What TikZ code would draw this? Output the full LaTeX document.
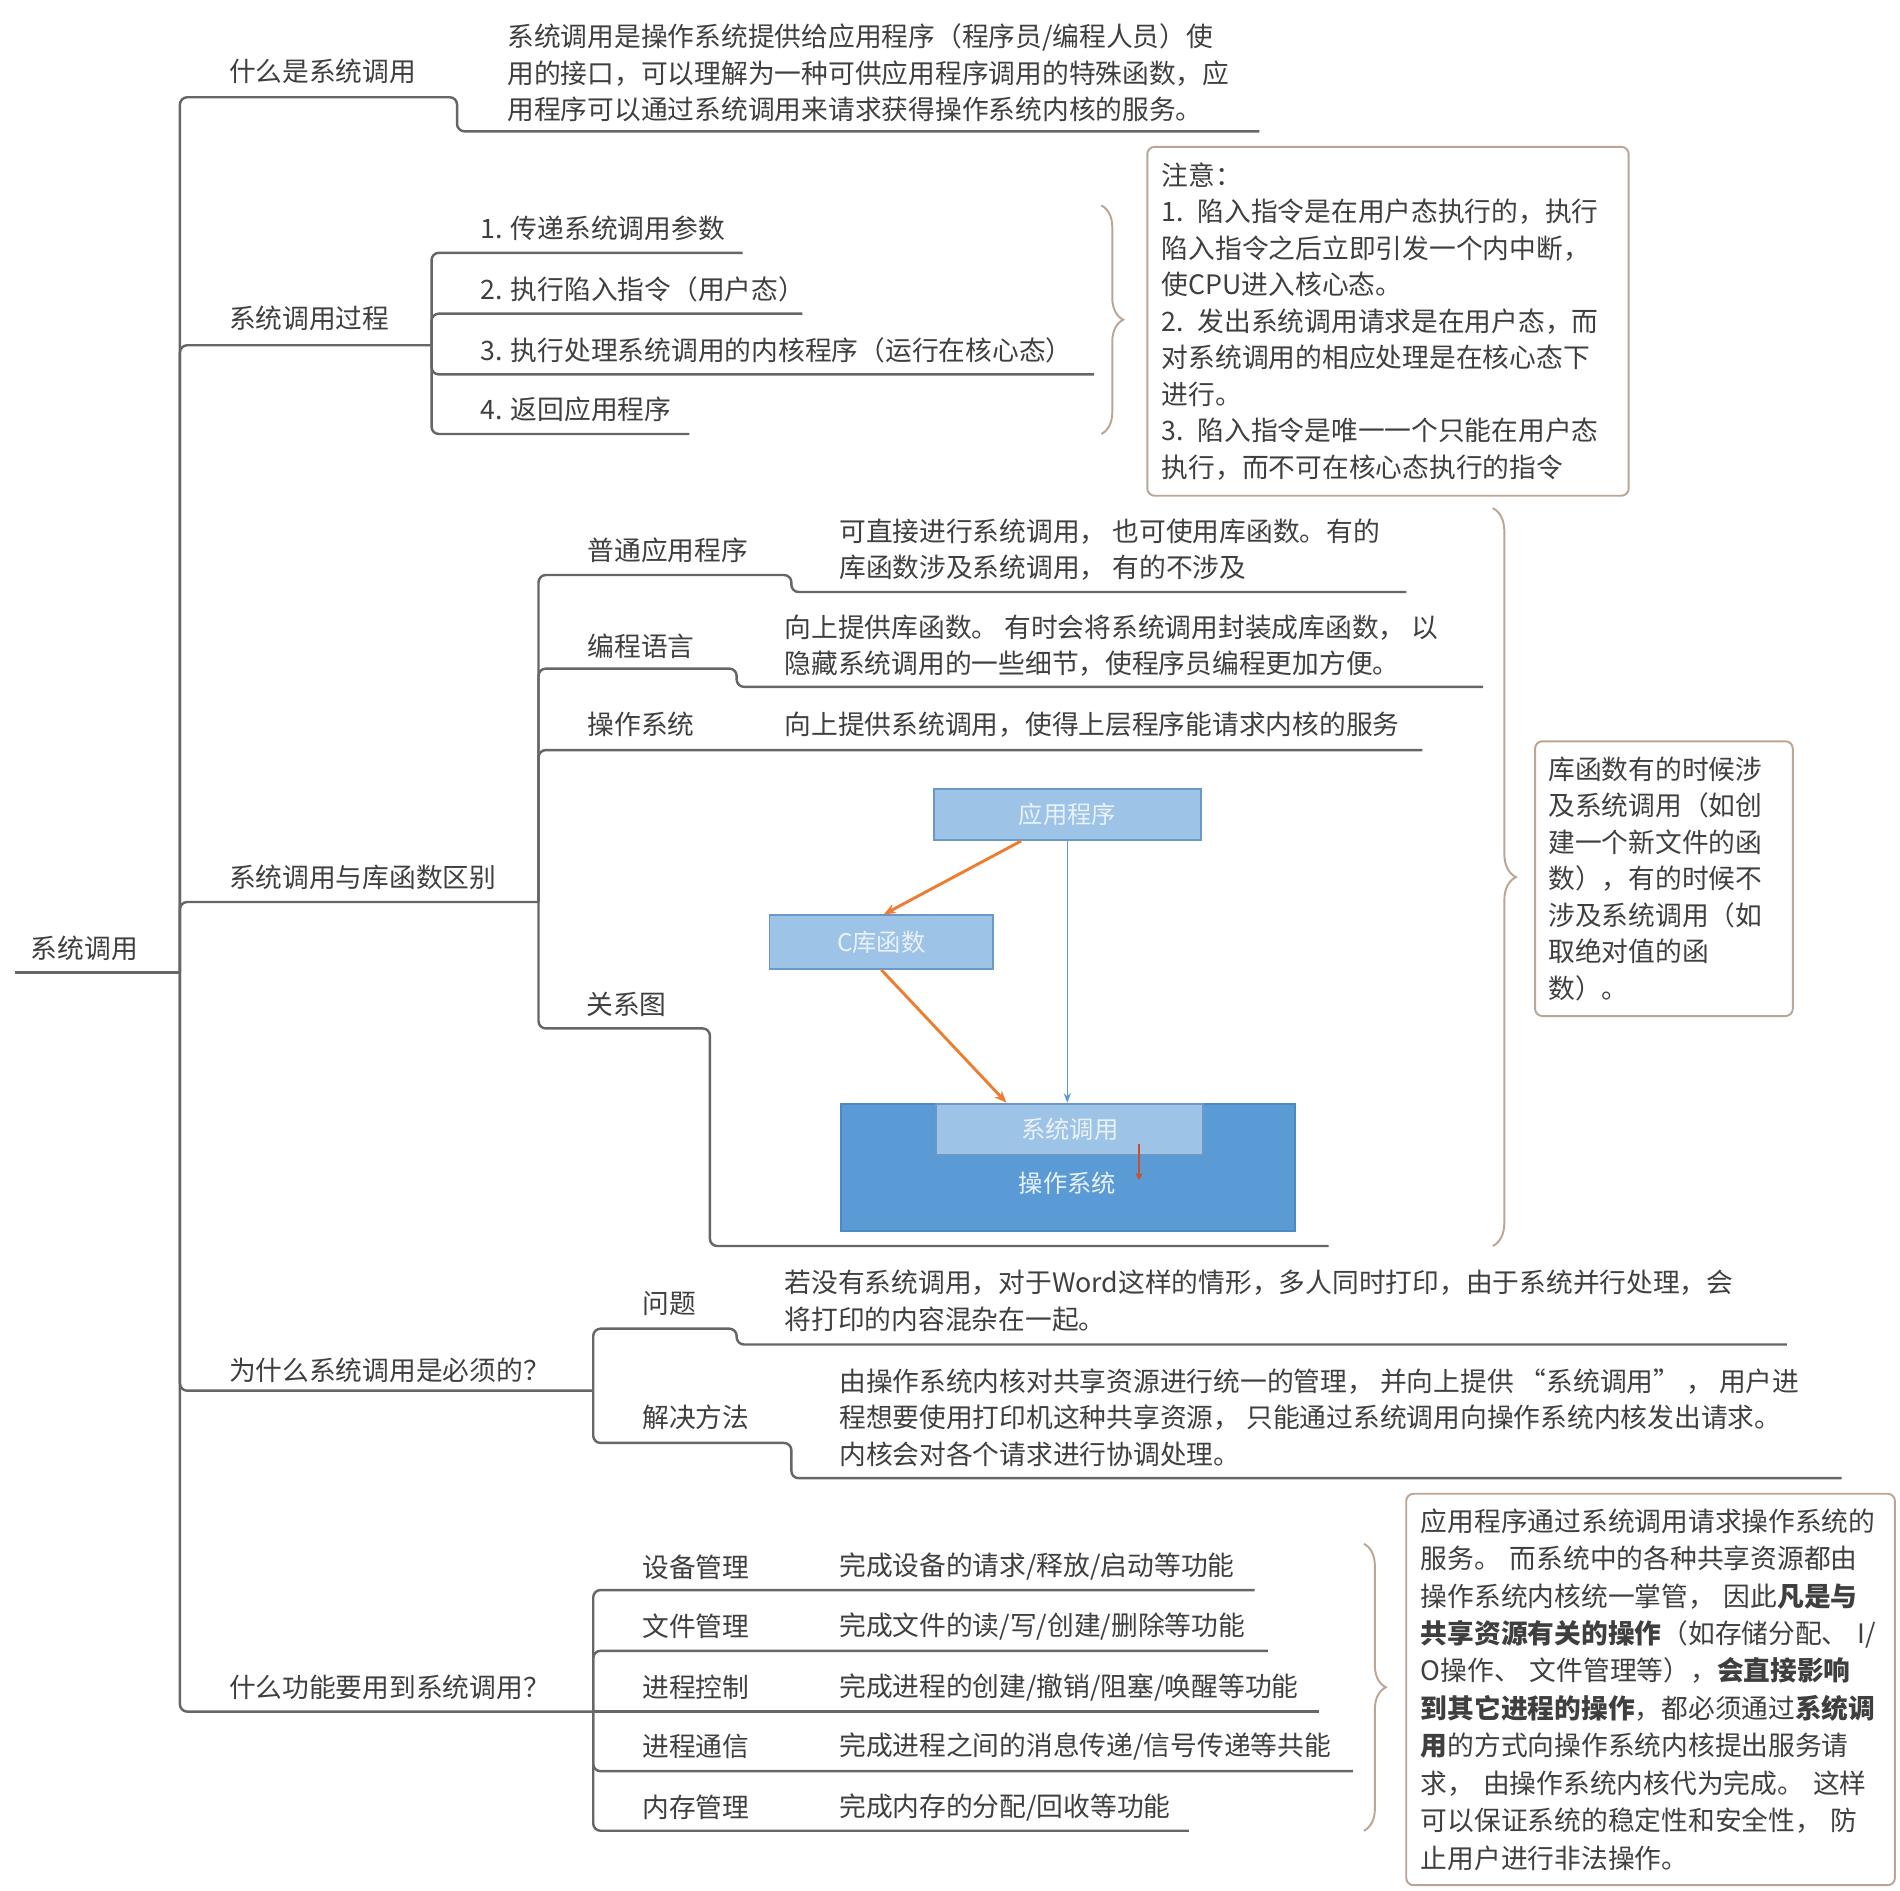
\documentclass[tikz,border=0pt]{standalone}
\usepackage{fontspec}
\setmainfont{Noto Sans CJK SC}
\usetikzlibrary{arrows.meta,decorations.pathreplacing}
\definecolor{txt}{HTML}{3F3F3F}
\definecolor{ln}{HTML}{666666}
\definecolor{brn}{HTML}{BBA595}
\definecolor{lb}{HTML}{9DC3E6}
\definecolor{lbd}{HTML}{6A98C8}
\definecolor{db}{HTML}{5B9BD5}
\definecolor{dbd}{HTML}{4C88C2}
\definecolor{org}{HTML}{ED7D31}
\definecolor{rar}{HTML}{C8502D}
\definecolor{wt}{HTML}{E9F1F9}
\begin{document}
\begin{tikzpicture}[x=0.5pt,y=-0.5pt,
  every node/.style={inner sep=0pt},
  lbl/.style={anchor=west,text=txt,font=\fontsize{11pt}{15pt}\selectfont,align=left},
  conn/.style={draw=ln,line width=1pt,rounded corners=3pt},
  notebox/.style={draw=brn,line width=0.8pt,rounded corners=3pt,anchor=north west,align=left,text=txt,font=\fontsize{11pt}{15pt}\selectfont,inner xsep=6pt,inner ysep=0pt},
  bracepath/.style={draw=brn,line width=0.8pt,decorate,decoration={brace,amplitude=9pt}},
  lightbox/.style={draw=lbd,fill=lb,line width=0.8pt,text=wt,font=\fontsize{10pt}{12pt}\selectfont},
  darkbox/.style={draw=dbd,fill=db,line width=0.8pt},
  orgarrow/.style={draw=org,line width=1.2pt,-{Stealth[length=5pt,width=4pt]}},
  bluearrow/.style={draw=db,line width=0.6pt,-{Stealth[length=4pt,width=3pt]}},
  redarrow/.style={draw=rar,line width=1pt,-{Stealth[length=3pt,width=3pt]}}
]
\useasboundingbox (0,0) rectangle (1563,1555);

% ---------- root ----------
\coordinate (r0) at (12,800);
\coordinate (R) at (148,800);
\node[lbl] (root) at (25,780) {系统调用};
\draw[conn] (r0) -- (R);

% ---------- branch 1 ----------
\node[lbl] (b1) at (188,59) {什么是系统调用};
\node[lbl] (b1d) at (417,60) {系统调用是操作系统提供给应用程序（程序员/编程人员）使\\用的接口，可以理解为一种可供应用程序调用的特殊函数，应\\用程序可以通过系统调用来请求获得操作系统内核的服务。};
\coordinate (b1a) at (376,80);
\coordinate (b1b) at (376,108);
\coordinate (b1c) at (1036,108);
\draw[conn] (R) |- (b1a) -- (b1b) -- (b1c);

% ---------- branch 2 ----------
\node[lbl] (b2) at (188,262) {系统调用过程};
\coordinate (J2) at (355,284);
\draw[conn] (R) |- (J2);
\node[lbl] (s21) at (395,188) {1. 传递系统调用参数};
\node[lbl] (s22) at (395,238) {2. 执行陷入指令（用户态）};
\node[lbl] (s23) at (395,288) {3. 执行处理系统调用的内核程序（运行在核心态）};
\node[lbl] (s24) at (395,337) {4. 返回应用程序};
\coordinate (e21) at (611,208);
\coordinate (e22) at (660,258);
\coordinate (e23) at (900,308);
\coordinate (e24) at (567,357);
\draw[conn] (J2) |- (e21);
\draw[conn] (J2) |- (e22);
\draw[conn] (J2) |- (e23);
\draw[conn] (J2) |- (e24);
\coordinate (br1t) at (906,169);
\coordinate (br1b) at (906,357);
\draw[bracepath] (br1t) -- (br1b);
\node[notebox,text width=186pt,minimum height=143.5pt] (note1) at (943,120) {注意：\\1. 陷入指令是在用户态执行的，执行\\陷入指令之后立即引发一个内中断，\\使CPU进入核心态。\\2. 发出系统调用请求是在用户态，而\\对系统调用的相应处理是在核心态下\\进行。\\3. 陷入指令是唯一一个只能在用户态\\执行，而不可在核心态执行的指令};

% ---------- branch 3 ----------
\node[lbl] (b3) at (188,722) {系统调用与库函数区别};
\coordinate (J3) at (443,742);
\draw[conn] (R) |- (J3);
\node[lbl] (s31) at (483,453) {普通应用程序};
\node[lbl] (s31d) at (690,452) {可直接进行系统调用， 也可使用库函数。有的\\库函数涉及系统调用， 有的不涉及};
\coordinate (e31a) at (651,473);
\coordinate (e31b) at (651,487);
\coordinate (e31c) at (1157,487);
\draw[conn] (J3) |- (e31a) -- (e31b) -- (e31c);
\node[lbl] (s32) at (483,532) {编程语言};
\node[lbl] (s32d) at (645,531) {向上提供库函数。 有时会将系统调用封装成库函数， 以\\隐藏系统调用的一些细节，使程序员编程更加方便。};
\coordinate (e32a) at (606,550);
\coordinate (e32b) at (606,565);
\coordinate (e32c) at (1220,565);
\draw[conn] (J3) |- (e32a) -- (e32b) -- (e32c);
\node[lbl] (s33) at (483,596) {操作系统};
\node[lbl] (s33d) at (645,596) {向上提供系统调用，使得上层程序能请求内核的服务};
\coordinate (e33) at (1170,617);
\draw[conn] (J3) |- (e33);
\node[lbl] (s34) at (482,826) {关系图};
\coordinate (e34a) at (584,846);
\coordinate (e34b) at (584,1025);
\coordinate (e34c) at (1093,1025);
\draw[conn] (J3) |- (e34a) -- (e34b) -- (e34c);

% diagram
\node[lightbox,minimum width=110pt,minimum height=21pt] (app) at (878,670) {应用程序};
\node[lightbox,minimum width=92pt,minimum height=22pt] (clib) at (725,775) {C库函数};
\node[darkbox,minimum width=186.5pt,minimum height=52.5pt] (os) at (878.5,960.5) {};
\node[lightbox,minimum width=110pt,minimum height=21pt] (sys) at (880,929) {系统调用};
\node[text=wt,font=\fontsize{10pt}{12pt}\selectfont] (ostxt) at (878,973) {操作系统};
\draw[orgarrow] ([xshift=-19pt]app.south) -- ([xshift=1pt]clib.north);
\draw[bluearrow] (app.south) -- (app.south |- sys.north);
\draw[orgarrow] (clib.south) -- ([xshift=-26pt]sys.north);
\draw[redarrow] ([xshift=28.5pt,yshift=5pt]sys.south) -- ([xshift=28.5pt,yshift=-10pt]sys.south);

\coordinate (br2t) at (1228,418);
\coordinate (br2b) at (1228,1025);
\draw[bracepath,decoration={brace,amplitude=9.5pt}] (br2t) -- (br2b);
\node[notebox,inner xsep=5.5pt,text width=95pt,minimum height=113pt] (note2) at (1262,609) {库函数有的时候涉\\及系统调用（如创\\建一个新文件的函\\数），有的时候不\\涉及系统调用（如\\取绝对值的函\\数）。};

% ---------- branch 4 ----------
\node[lbl] (b4) at (188,1127) {为什么系统调用是必须的？};
\coordinate (J4) at (488,1144);
\draw[conn] (R) |- (J4);
\node[lbl] (s41) at (528,1072) {问题};
\node[lbl] (s41d) at (645,1070) {若没有系统调用，对于Word这样的情形，多人同时打印，由于系统并行处理，会\\将打印的内容混杂在一起。};
\coordinate (e41a) at (606,1093);
\coordinate (e41b) at (606,1106);
\coordinate (e41c) at (1470,1106);
\draw[conn] (J4) |- (e41a) -- (e41b) -- (e41c);
\node[lbl] (s42) at (528,1166) {解决方法};
\node[lbl] (s42d) at (690,1166) {由操作系统内核对共享资源进行统一的管理， 并向上提供 “系统调用” ， 用户进\\程想要使用打印机这种共享资源， 只能通过系统调用向操作系统内核发出请求。\\内核会对各个请求进行协调处理。};
\coordinate (e42a) at (651,1187);
\coordinate (e42b) at (651,1216);
\coordinate (e42c) at (1515,1216);
\draw[conn] (J4) |- (e42a) -- (e42b) -- (e42c);

% ---------- branch 5 ----------
\node[lbl] (b5) at (188,1388) {什么功能要用到系统调用？};
\coordinate (J5) at (488,1408);
\draw[conn] (R) |- (J5);
\node[lbl] (s51) at (528,1289) {设备管理};
\node[lbl] (s51d) at (690,1289) {完成设备的请求/释放/启动等功能};
\node[lbl] (s52) at (528,1338) {文件管理};
\node[lbl] (s52d) at (690,1338) {完成文件的读/写/创建/删除等功能};
\node[lbl] (s53) at (528,1388) {进程控制};
\node[lbl] (s53d) at (690,1388) {完成进程的创建/撤销/阻塞/唤醒等功能};
\node[lbl] (s54) at (528,1437) {进程通信};
\node[lbl] (s54d) at (690,1437) {完成进程之间的消息传递/信号传递等共能};
\node[lbl] (s55) at (528,1487) {内存管理};
\node[lbl] (s55d) at (690,1487) {完成内存的分配/回收等功能};
\coordinate (e51) at (1032,1308);
\coordinate (e52) at (1043,1358);
\coordinate (e53) at (1085,1408);
\coordinate (e54) at (1113,1457);
\coordinate (e55) at (978,1506);
\draw[conn] (J5) |- (e51);
\draw[conn] (J5) |- (e52);
\draw[conn] (J5) -- (e53);
\draw[conn] (J5) |- (e54);
\draw[conn] (J5) |- (e55);
\coordinate (br3t) at (1122,1270);
\coordinate (br3b) at (1122,1506);
\draw[bracepath] (br3t) -- (br3b);
\node[notebox,font=\fontsize{11pt}{15.4pt}\selectfont,text width=189pt,minimum height=161pt] (note3) at (1156,1228) {应用程序通过系统调用请求操作系统的\\服务。 而系统中的各种共享资源都由\\操作系统内核统一掌管， 因此\textbf{凡是与}\\\textbf{共享资源有关的操作}（如存储分配、 I/\\O操作、 文件管理等），\textbf{会直接影响}\\\textbf{到其它进程的操作}，都必须通过\textbf{系统调}\\\textbf{用}的方式向操作系统内核提出服务请\\求， 由操作系统内核代为完成。 这样\\可以保证系统的稳定性和安全性， 防\\止用户进行非法操作。};
\end{tikzpicture}
\end{document}
